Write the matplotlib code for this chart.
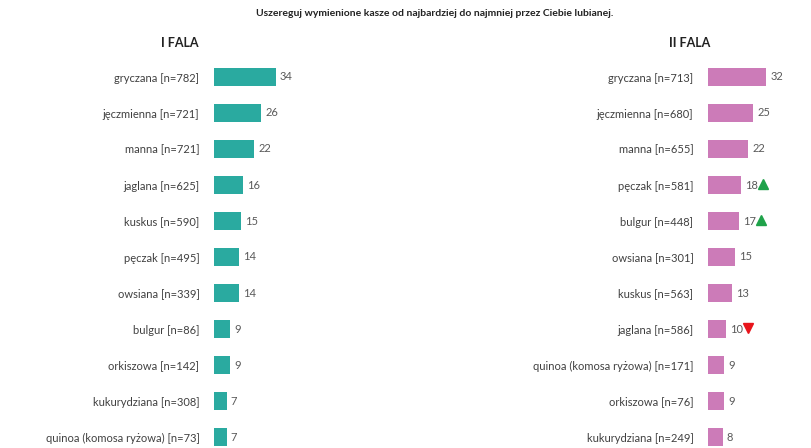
import matplotlib
matplotlib.use("Agg")
import matplotlib.pyplot as plt

plt.rcParams['font.family'] = ['Lato', 'DejaVu Sans']

left_labels = ["gryczana [n=782]", "jęczmienna [n=721]", "manna [n=721]", "jaglana [n=625]",
               "kuskus [n=590]", "pęczak [n=495]", "owsiana [n=339]", "bulgur [n=86]",
               "orkiszowa [n=142]", "kukurydziana [n=308]", "quinoa (komosa ryżowa) [n=73]"]
left_values = [34, 26, 22, 16, 15, 14, 14, 9, 9, 7, 7]
right_labels = ["gryczana [n=713]", "jęczmienna [n=680]", "manna [n=655]", "pęczak [n=581]",
                "bulgur [n=448]", "owsiana [n=301]", "kuskus [n=563]", "jaglana [n=586]",
                "quinoa (komosa ryżowa) [n=171]", "orkiszowa [n=76]", "kukurydziana [n=249]"]
right_values = [32, 25, 22, 18, 17, 15, 13, 10, 9, 9, 8]
right_trend = ["", "", "", "up", "up", "", "", "down", "", "", ""]

W, H = 812, 448
fig = plt.figure(figsize=(W/100, H/100), dpi=100)

def add_ax(x0, color, labels, values, trend=None):
    top, bot = 59, 448
    ax = fig.add_axes([x0/W, 1-bot/H, (1.82*40)/W, (bot-top)/H])
    y = list(range(len(values)))
    ax.barh(y, values, height=0.5, color=color)
    ax.set_xlim(0, 40)
    ax.set_ylim((bot-77)/36, -0.5)
    ax.set_yticks(y)
    ax.set_yticklabels(labels, fontsize=8, color='#404040')
    ax.tick_params(left=False, bottom=False, labelbottom=False, pad=7)
    for s in ax.spines.values():
        s.set_visible(False)
    for i, v in enumerate(values):
        ax.text(v + 2.2, i, str(v), va='center', ha='left', fontsize=8, color='#595959')
    if trend:
        for i, t in enumerate(trend):
            if t == "up":
                ax.plot(values[i] + 12, i - 0.02, marker='^', color='#1FA24A', markersize=7, clip_on=False)
            elif t == "down":
                ax.plot(values[i] + 12, i - 0.02, marker='v', color='#E8141B', markersize=7, clip_on=False)
    return ax

add_ax(214, '#2AAAA0', left_labels, left_values)
add_ax(708, '#CC7BB8', right_labels, right_values, right_trend)

fig.text(435/W, 1-14/H, "Uszereguj wymienione kasze od najbardziej do najmniej przez Ciebie lubianej.",
         ha='center', va='center', fontsize=7.5, fontweight='bold', color='#222222')
fig.text(180/W, 1-43/H, "I FALA", ha='center', va='center', fontsize=9, fontweight='bold', color='#222222')
fig.text(690/W, 1-43/H, "II FALA", ha='center', va='center', fontsize=9, fontweight='bold', color='#222222')

fig.savefig("out.png", dpi=100)
